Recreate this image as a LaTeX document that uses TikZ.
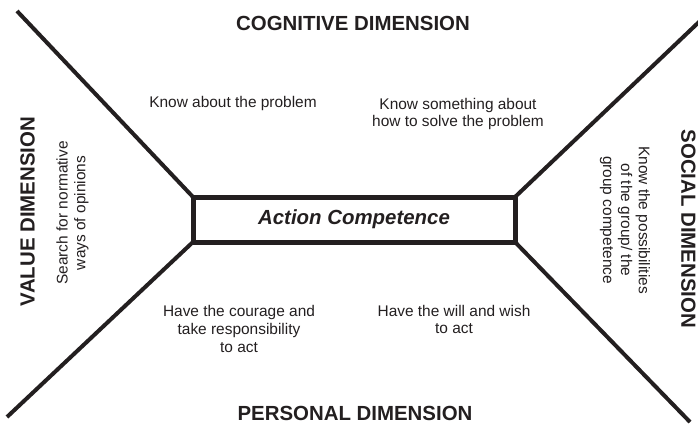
\documentclass[tikz,border=0pt]{standalone}
\usepackage{fontspec}
\setmainfont{Liberation Sans}
\definecolor{ink}{HTML}{231F20}

\begin{document}
\begin{tikzpicture}[x=1bp,y=-1bp]
	\tikzset{
	  DimStyle/.style = { font = \fontsize{20.5}{24}\selectfont\bfseries,
	                      text = ink, inner sep = 0pt },
	  NoteStyle/.style = { font = \fontsize{15.5}{18}\selectfont,
	                       text = ink, align = center, inner sep = 0pt },
	  ArmStyle/.style = { draw = ink, line width = 4bp },
	  CoreStyle/.style = { draw = ink, line width = 5bp, inner sep = 0pt,
	                       outer sep = 0pt, minimum width = 322bp,
	                       minimum height = 45bp, text = ink,
	                       font = \fontsize{20.5}{24}\selectfont\bfseries\itshape } }
	\useasboundingbox (0,0) rectangle (698,425);
	\node[CoreStyle] (core) at (354,219.5) {Action Competence};
	% ends of the four arms
	\coordinate (tl) at (17,11);
	\coordinate (tr) at (700,21);
	\coordinate (bl) at (7,417);
	\coordinate (br) at (690,422);
	\draw[ArmStyle] (core.north west) -- (tl);
	\draw[ArmStyle] (core.north east) -- (tr);
	\draw[ArmStyle] (core.south west) -- (bl);
	\draw[ArmStyle] (core.south east) -- (br);
	% dimensions
	\node[DimStyle] (cognitive) at (353,23) {COGNITIVE DIMENSION};
	\node[DimStyle] (personal) at (355,413) {PERSONAL DIMENSION};
	\node[DimStyle, rotate = 90] (value) at (27.5,211.5) {VALUE DIMENSION};
	\node[DimStyle, rotate = -90] (social) at (688.5,229) {SOCIAL DIMENSION};
	% what each one asks for
	\node[NoteStyle] (know) at (233,103.5) {Know about the problem};
	\node[NoteStyle] (solve) at (458,114) {Know something about\\how to solve the problem};
	\node[NoteStyle, rotate = 90] (search) at (72.5,213) {Search for normative\\ways of opinions};
	\node[NoteStyle, rotate = -90] (possib) at (625,220) {Know the possibilities\\of the group/ the\\group competence};
	\node[NoteStyle] (courage) at (239,329) {Have the courage and\\take responsibility\\to act};
	\node[NoteStyle] (will) at (454,319.5) {Have the will and wish\\to act};
\end{tikzpicture}
\end{document}
